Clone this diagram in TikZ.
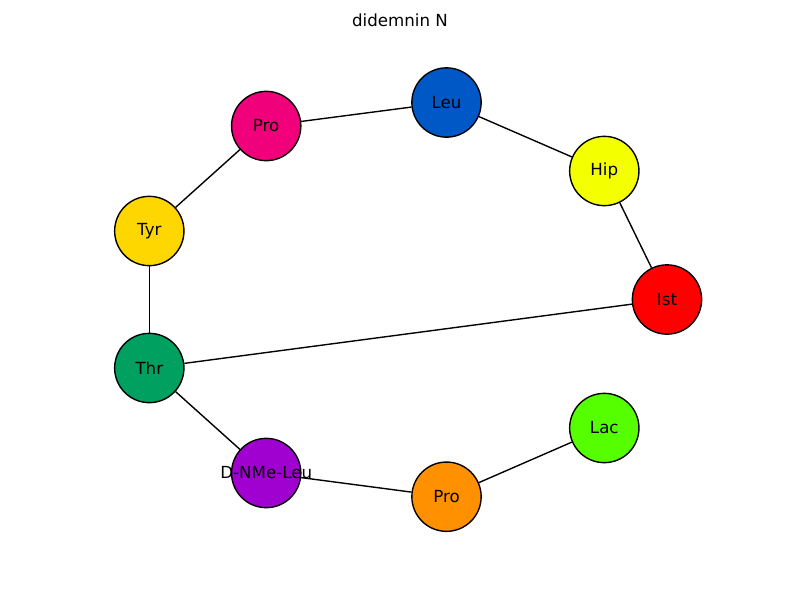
\documentclass[tikz,border=0pt]{standalone}
\usepackage{fontspec}
\setmainfont{DejaVu Sans}
\definecolor{cLeu}{RGB}{0,87,198}
\definecolor{cHip}{RGB}{244,255,0}
\definecolor{cIst}{RGB}{255,0,0}
\definecolor{cLac}{RGB}{85,255,0}
\definecolor{cProB}{RGB}{255,145,0}
\definecolor{cDNM}{RGB}{160,0,208}
\definecolor{cThr}{RGB}{0,160,96}
\definecolor{cTyr}{RGB}{255,215,0}
\definecolor{cProT}{RGB}{240,0,122}
\tikzset{
  res/.style={circle, draw=black, line width=1pt, minimum size=49.9pt, inner sep=0pt, font=\fontsize{12pt}{14pt}\selectfont, text=black},
  bond/.style={draw=black, line width=1pt},
}
\begin{document}
\begin{tikzpicture}[x=0.72pt, y=-0.72pt]
\useasboundingbox (0,0) rectangle (800,600);
\fill[white] (0,0) rectangle (800,600);
\node[font=\fontsize{12pt}{14pt}\selectfont] (title) at (400,20) {didemnin N};
\node[res, fill=cLeu] (leu) at (446.5,102.5) {Leu};
\node[res, fill=cHip] (hip) at (604.3,171) {Hip};
\node[res, fill=cIst] (ist) at (667,299.5) {Ist};
\node[res, fill=cLac] (lac) at (604.3,428) {Lac};
\node[res, fill=cProB] (prob) at (446.5,496.7) {Pro};
\node[res, fill=cDNM] (dnm) at (266.2,473) {};
\node[res, fill=cThr] (thr) at (149.3,368) {Thr};
\node[res, fill=cTyr] (tyr) at (149.3,231) {Tyr};
\node[res, fill=cProT] (prot) at (266.2,126) {Pro};
\begin{scope}[on background layer/.try]
\end{scope}
\path[bond] (prot) -- (leu);
\path[bond] (leu) -- (hip);
\path[bond] (hip) -- (ist);
\path[bond] (ist) -- (thr);
\path[bond] (thr) -- (tyr);
\path[bond] (tyr) -- (prot);
\path[bond] (thr) -- (dnm);
\path[bond] (dnm) -- (prob);
\path[bond] (prob) -- (lac);
\node[font=\fontsize{12pt}{14pt}\selectfont] (dnmlabel) at (dnm.center) {D-NMe-Leu};
\end{tikzpicture}
\end{document}
